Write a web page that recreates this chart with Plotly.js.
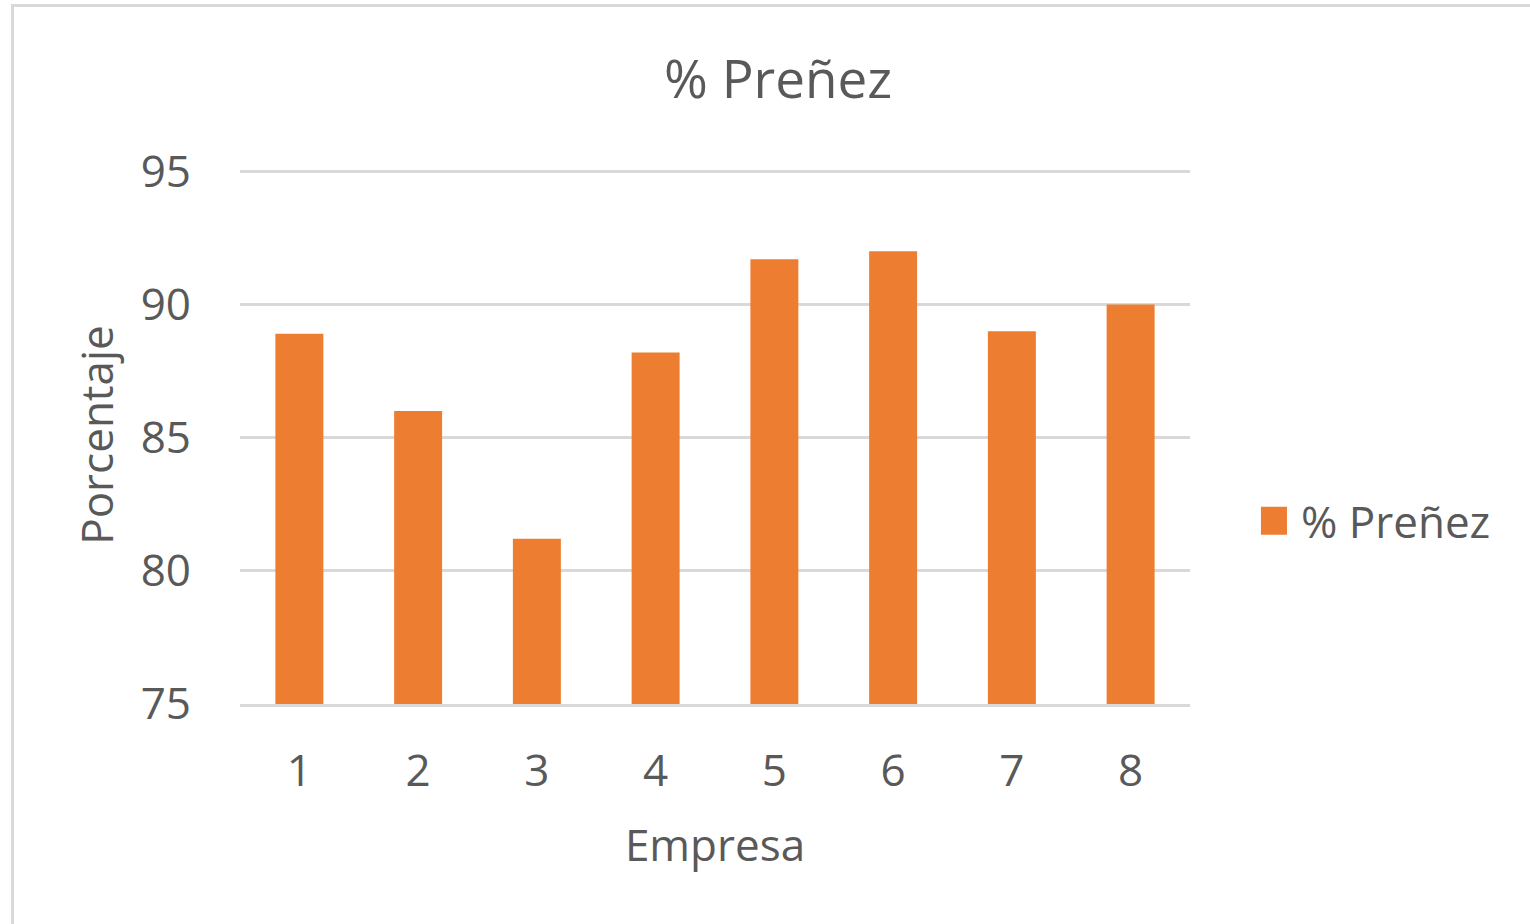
<!DOCTYPE html>
<html>
<head>
<meta charset="utf-8">
<script src="https://cdn.plot.ly/plotly-3.0.1.min.js"></script>
<style>
  html, body { margin: 0; padding: 0; background: #fff; width: 1530px; height: 924px; overflow: hidden; }
  #frame { position: absolute; left: 11px; top: 4px; width: 1530px; height: 930px;
           border-top: 3px solid #d9d9d9; border-left: 3px solid #d9d9d9; }
  #chart { position: absolute; left: 0; top: 0; }
</style>
</head>
<body>
<div id="frame"><div id="chart"></div></div>
<script>
const categories = ['1', '2', '3', '4', '5', '6', '7', '8'];
const prenez = [88.9, 86.0, 81.2, 88.2, 91.7, 92.0, 89.0, 90.0];
const yTicks = [75, 80, 85, 90, 95];

const textColor = '#595959';
const fontFamily = '"Open Sans", "Noto Sans", sans-serif';

const trace = {
  type: 'bar',
  name: '% Preñez',
  x: categories,
  y: prenez,
  marker: { color: '#ED7D31' },
  hoverinfo: 'x+y'
};

const layout = {
  width: 1519,
  height: 920,
  margin: { l: 226, r: 343, t: 159, b: 223 },
  paper_bgcolor: 'rgba(0,0,0,0)',
  plot_bgcolor: 'rgba(0,0,0,0)',
  font: { family: fontFamily, color: textColor, size: 44 },
  title: {
    text: '% Preñez',
    font: { family: fontFamily, size: 53, color: textColor },
    x: 0.503, xref: 'container', xanchor: 'center',
    y: 0.921, yref: 'container', yanchor: 'middle'
  },
  bargap: 0.596,
  xaxis: {
    type: 'category',
    showgrid: false,
    showline: true,
    linecolor: '#d9d9d9',
    linewidth: 3,
    ticks: '',
    ticklabelstandoff: 26,
    tickfont: { size: 44, color: textColor },
    title: { text: 'Empresa', font: { size: 44, color: textColor }, standoff: 33 },
    automargin: false
  },
  yaxis: {
    range: [75, 95.2],
    tickvals: yTicks,
    ticktext: yTicks.map(String),
    showgrid: true,
    gridcolor: '#d9d9d9',
    gridwidth: 3,
    zeroline: false,
    showline: false,
    ticks: '',
    ticklabelstandoff: 48,
    tickfont: { size: 44, color: textColor },
    title: { text: 'Porcentaje', font: { size: 44, color: textColor }, standoff: 13 },
    automargin: false
  },
  showlegend: true,
  legend: {
    x: 1.0747, xanchor: 'left',
    y: 0.34, yanchor: 'middle',
    font: { size: 44, color: textColor },
    bgcolor: 'rgba(0,0,0,0)'
  }
};

Plotly.newPlot('chart', [trace], layout, { displayModeBar: false, staticPlot: true }).then(() => {
  document.querySelectorAll('.legend .legendpoints path').forEach(p => {
    p.setAttribute('d', 'M6,14H-22V-14H6Z');
  });
});
</script>
</body>
</html>
